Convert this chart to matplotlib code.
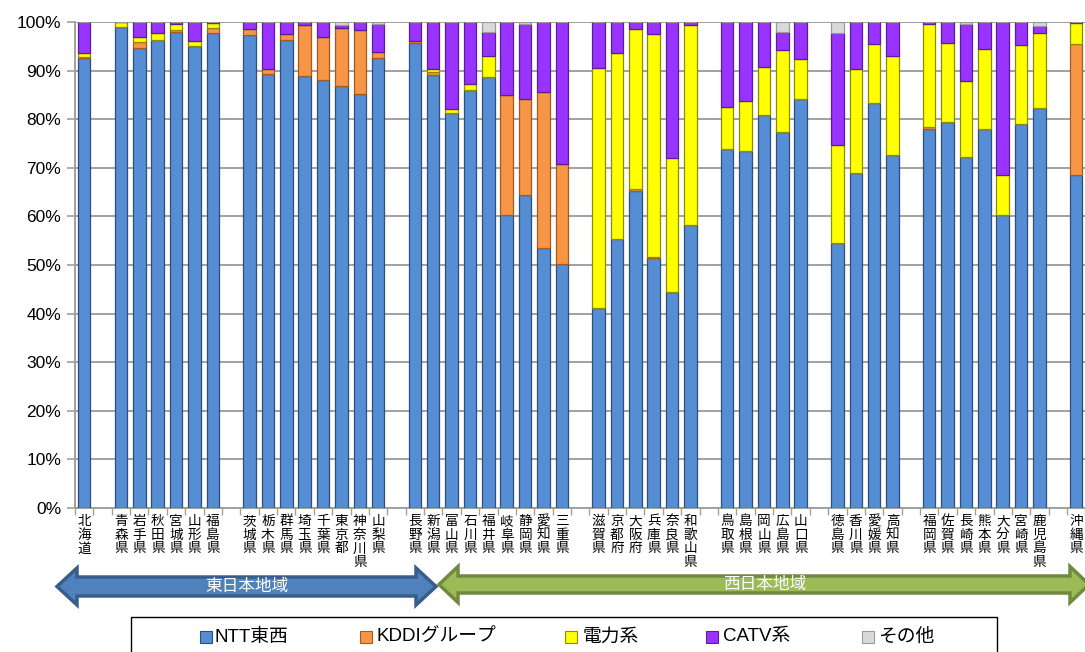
import numpy as np
import matplotlib
matplotlib.use('Agg')
import matplotlib.pyplot as plt
from matplotlib.patches import Polygon, Rectangle

plt.rcParams['font.family'] = ['Liberation Sans', 'Noto Sans CJK JP', 'DejaVu Sans']

# 地域ごとの都道府県 (グループ間に1本分の空き)
groups = [
    ['北海道'],
    ['青森県', '岩手県', '秋田県', '宮城県', '山形県', '福島県'],
    ['茨城県', '栃木県', '群馬県', '埼玉県', '千葉県', '東京都', '神奈川県', '山梨県'],
    ['長野県', '新潟県', '富山県', '石川県', '福井県', '岐阜県', '静岡県', '愛知県', '三重県'],
    ['滋賀県', '京都府', '大阪府', '兵庫県', '奈良県', '和歌山県'],
    ['鳥取県', '島根県', '岡山県', '広島県', '山口県'],
    ['徳島県', '香川県', '愛媛県', '高知県'],
    ['福岡県', '佐賀県', '長崎県', '熊本県', '大分県', '宮崎県', '鹿児島県'],
    ['沖縄県'],
]

series = ['NTT東西', 'KDDIグループ', '電力系', 'CATV系', 'その他']

ntt = [92.5,
       98.9, 94.6, 96.2, 98.0, 95.1, 97.8,
       97.3, 89.4, 96.2, 88.8, 88.0, 86.8, 85.1, 92.5,
       95.6, 89.0, 81.2, 86.0, 88.7, 60.3, 64.5, 53.5, 50.2,
       41.1, 55.3, 65.2, 51.4, 44.4, 58.2,
       73.8, 73.5, 80.9, 77.3, 84.2,
       54.5, 68.9, 83.4, 72.6,
       78.0, 79.4, 72.2, 78.0, 60.2, 79.1, 82.4,
       68.5]
kddi = [0.2,
        0.0, 1.2, 0.0, 0.4, 0.0, 0.9,
        1.2, 0.9, 1.3, 10.5, 9.0, 12.0, 13.3, 1.3,
        0.4, 0.8, 0.0, 0.0, 0.0, 24.6, 19.7, 32.0, 20.5,
        0.0, 0.0, 0.4, 0.3, 0.0, 0.0,
        0.0, 0.0, 0.0, 0.0, 0.0,
        0.0, 0.0, 0.0, 0.0,
        0.3, 0.0, 0.0, 0.0, 0.0, 0.0, 0.0,
        26.9]
denryoku = [0.9,
            1.1, 1.2, 1.5, 1.2, 0.9, 1.0,
            0.0, 0.0, 0.0, 0.0, 0.0, 0.0, 0.0, 0.0,
            0.0, 0.6, 0.8, 1.2, 4.4, 0.0, 0.0, 0.0, 0.0,
            49.5, 38.4, 33.0, 45.8, 27.7, 41.1,
            8.8, 10.3, 9.8, 17.0, 8.1,
            20.1, 21.4, 12.0, 20.5,
            21.3, 16.3, 15.7, 16.4, 8.3, 16.1, 15.4,
            4.3]
catv = [6.4,
        0.0, 3.0, 2.3, 0.3, 4.0, 0.3,
        1.5, 9.7, 2.5, 0.7, 3.0, 0.5, 1.6, 5.8,
        4.0, 9.6, 18.0, 12.8, 4.8, 15.1, 15.4, 14.5, 29.3,
        9.4, 6.3, 1.4, 2.5, 27.9, 0.7,
        17.4, 16.2, 9.3, 3.6, 7.7,
        23.2, 9.7, 4.6, 6.9,
        0.4, 4.3, 11.6, 5.6, 31.5, 4.8, 1.4,
        0.3]
sonota = [0.0,
          0.0, 0.0, 0.0, 0.1, 0.0, 0.0,
          0.0, 0.0, 0.0, 0.0, 0.0, 0.7, 0.0, 0.4,
          0.0, 0.0, 0.0, 0.0, 2.1, 0.0, 0.4, 0.0, 0.0,
          0.0, 0.0, 0.0, 0.0, 0.0, 0.0,
          0.0, 0.0, 0.0, 2.1, 0.0,
          2.2, 0.0, 0.0, 0.0,
          0.0, 0.0, 0.5, 0.0, 0.0, 0.0, 0.8,
          0.0]

colors = ['#558ED5', '#F79646', '#FFFF00', '#9933FF', '#D9D9D9']
edges = ['#2F4F7A', '#A65A1E', '#8C8C00', '#5B1E99', '#9A9A9A']

W, H = 1085, 652
fig = plt.figure(figsize=(W / 100, H / 100), dpi=100)
ax = fig.add_axes([75 / W, 1 - 508 / H, 1010.4 / W, 486 / H])

# x位置: グループ間に空きを1つ
names, pos = [], []
p = 0
for g in groups:
    for n in g:
        names.append(n)
        pos.append(p)
        p += 1
    p += 1
pos = np.array(pos)

bottom = np.zeros(len(names))
for vals, c, e in zip([ntt, kddi, denryoku, catv, sonota], colors, edges):
    vals = np.array(vals)
    ax.bar(pos, vals, 0.68, bottom=bottom, color=c, edgecolor=e, linewidth=0.9, zorder=3)
    bottom += vals

ax.set_xlim(-0.5, pos[-1] + 0.5)
ax.set_ylim(0, 100)
ax.set_yticks(np.arange(0, 101, 10))
ax.set_yticklabels([f'{v}%' for v in range(0, 101, 10)], fontsize=12.5, color='#000000')
ax.tick_params(axis='y', length=6, color='#A0A0A0', width=1.2, pad=4)
ax.grid(axis='y', color='#A0A0A0', linewidth=1.4, zorder=0)
ax.set_xticks(np.arange(-0.5, pos[-1] + 1, 1))
ax.set_xticklabels([])
ax.tick_params(axis='x', length=5, color='#A0A0A0', width=1.0)
for s in ['top', 'right']:
    ax.spines[s].set_visible(False)
for s in ['left', 'bottom']:
    ax.spines[s].set_color('#A0A0A0')
    ax.spines[s].set_linewidth(1.4)

# 縦書きラベル
for x, n in zip(pos, names):
    for k, ch in enumerate(n):
        ax.annotate(ch, xy=(x, 0), xycoords=('data', 'axes fraction'),
                    xytext=(0, -9.6 - k * 9.75), textcoords='offset points',
                    ha='center', va='center', fontsize=9.8,
                    family=['Noto Sans CJK JP'], color='#000000')


def fx(px):
    return px / W


def fy(py):
    return 1 - py / H


def double_arrow(x0, x1, yc, head_len, head_half, shaft_half, fc, ec):
    pts = [(x0, yc), (x0 + head_len, yc - head_half), (x0 + head_len, yc - shaft_half),
           (x1 - head_len, yc - shaft_half), (x1 - head_len, yc - head_half), (x1, yc),
           (x1 - head_len, yc + head_half), (x1 - head_len, yc + shaft_half),
           (x0 + head_len, yc + shaft_half), (x0 + head_len, yc + head_half)]
    poly = Polygon([(fx(a), fy(b)) for a, b in pts], closed=True, transform=fig.transFigure,
                   facecolor=fc, edgecolor=ec, linewidth=2.5, joinstyle='miter')
    fig.patches.append(poly)


double_arrow(57, 436, 586.5, 20, 18.5, 9.5, '#4F81BD', '#385D8A')
double_arrow(439, 1089, 584.5, 19, 18, 8.5, '#9BBB59', '#71893F')
fig.text(fx(247), fy(587), '東日本地域', color='white', fontsize=12, ha='center', va='center',
         family=['Noto Sans CJK JP'])
fig.text(fx(765), fy(585), '西日本地域', color='white', fontsize=12, ha='center', va='center',
         family=['Noto Sans CJK JP'])

# 凡例
fig.patches.append(Rectangle((fx(131), fy(665)), fx(997) - fx(131), fy(617) - fy(665),
                             transform=fig.transFigure, facecolor='white', edgecolor='black',
                             linewidth=1.0))
sq_x = [200, 360, 565, 706, 862]
tx_x = [214, 376, 583, 723, 878]
for s, c, e, sx, tx in zip(series, colors, edges, sq_x, tx_x):
    fig.patches.append(Rectangle((fx(sx), fy(643)), 12 / W, 12 / H, transform=fig.transFigure,
                                 facecolor=c, edgecolor=e, linewidth=0.8))
    fig.text(fx(tx), fy(637), s, fontsize=13.5, ha='left', va='center',
             family=['Liberation Sans', 'Noto Sans CJK JP'])

fig.savefig('out.png', dpi=100)
